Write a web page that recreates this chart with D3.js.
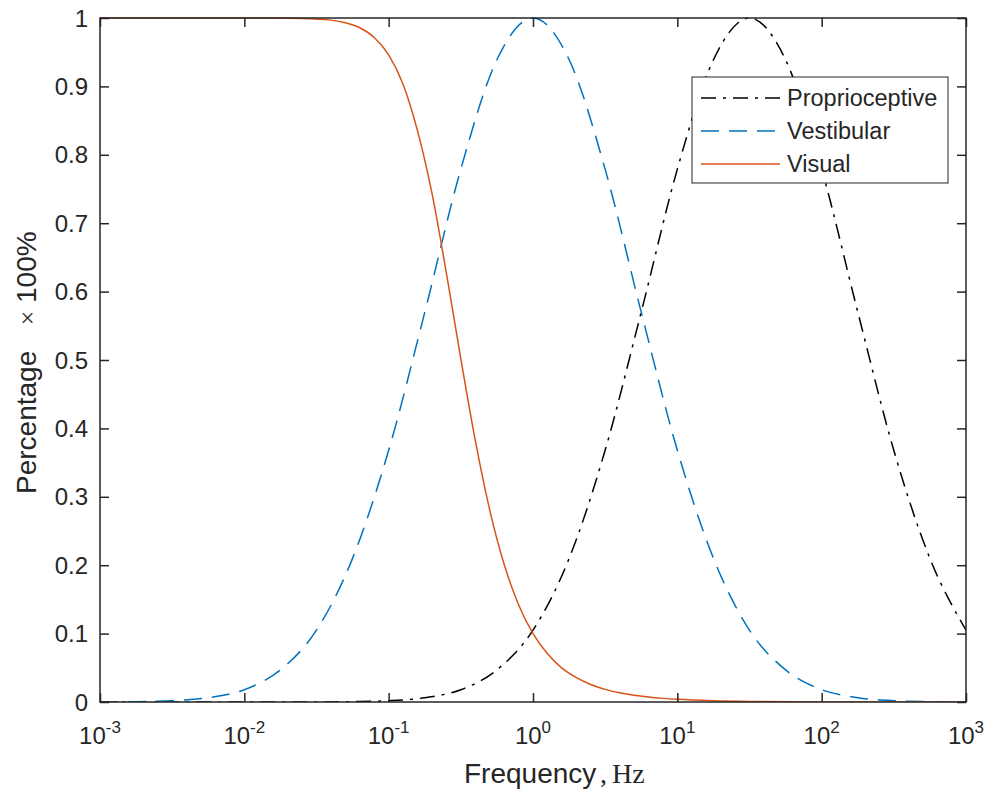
<!DOCTYPE html>
<html>
<head>
<meta charset="utf-8">
<script src="https://cdn.jsdelivr.net/npm/d3@7"></script>
<style>
  body { margin: 0; background: #fff; }
  text { font-family: "Liberation Sans", Arial, sans-serif; fill: #262626; }
</style>
</head>
<body>
<div id="chart"></div>
<script>
/* Data (frequency in Hz, share in 0..1) */
var gaussFreq = [0.001, 0.00178, 0.00316, 0.00562, 0.01, 0.0178, 0.0316, 0.0562, 0.1, 0.178, 0.316, 0.562,
                 1, 1.78, 3.16, 5.62, 10, 17.8, 31.6, 56.2, 100, 178, 316, 562, 1000];
var vestibular = [0.0001, 0.0005, 0.0019, 0.0063, 0.018, 0.047, 0.105, 0.21, 0.368, 0.570, 0.779, 0.939,
                  1.0, 0.939, 0.779, 0.570, 0.368, 0.21, 0.105, 0.047, 0.018, 0.0063, 0.0019, 0.0005, 0.0001];
var proprioceptive = [0, 0, 0, 0, 0, 0, 0.0001, 0.0005, 0.0019, 0.0063, 0.018, 0.047,
                      0.105, 0.21, 0.368, 0.570, 0.779, 0.939, 1.0, 0.939, 0.779, 0.570, 0.368, 0.21, 0.105];

var visualFreq = [0.001, 0.01, 0.0158, 0.0251, 0.0398, 0.0501, 0.0631, 0.0794, 0.1, 0.126, 0.158, 0.2,
                  0.251, 0.316, 0.398, 0.501, 0.631, 0.794, 1, 1.26, 1.58, 2.0, 2.51, 3.16, 3.98, 5.01,
                  6.31, 7.94, 10, 17.8, 31.6, 100, 1000];
var visual = [1.0, 1.0, 0.9999, 0.9994, 0.9969, 0.9932, 0.9858, 0.9716, 0.9461, 0.9029, 0.8361, 0.7429,
              0.6274, 0.5021, 0.3828, 0.281, 0.2013, 0.1422, 0.100, 0.0704, 0.0499, 0.0356, 0.0256, 0.0185,
              0.0135, 0.0098, 0.0072, 0.0053, 0.0039, 0.0018, 0.0008, 0.0001, 0.0];

var xTicks = [-3, -2, -1, 0, 1, 2, 3];
var yTicks = [0, 0.1, 0.2, 0.3, 0.4, 0.5, 0.6, 0.7, 0.8, 0.9, 1];
var legendNames = ["Proprioceptive", "Vestibular", "Visual"];

var width = 986, height = 790;
var plotLeft = 100, plotRight = 966, plotTop = 18, plotBottom = 702;
var tickLen = 9;
var axisColor = "#262626";
var serif = "'Liberation Serif', 'Times New Roman', serif";

var series = [
  {name: "Proprioceptive", freq: gaussFreq, values: proprioceptive, color: "#000000", dash: "15,7,3,7"},
  {name: "Vestibular", freq: gaussFreq, values: vestibular, color: "#0072BD", dash: "18,10"},
  {name: "Visual", freq: visualFreq, values: visual, color: "#D95319", dash: null}
];

/* Scales */
var xScale = d3.scaleLog().domain([1e-3, 1e3]).range([plotLeft, plotRight]);
var yScale = d3.scaleLinear().domain([0, 1]).range([plotBottom, plotTop]);

var svg = d3.select("#chart").append("svg")
  .attr("width", width)
  .attr("height", height);

/* Lines */
var line = d3.line()
  .x(d => xScale(d.f))
  .y(d => yScale(d.v))
  .curve(d3.curveMonotoneX);

svg.append("clipPath").attr("id", "plotclip")
  .append("rect")
  .attr("x", plotLeft).attr("y", plotTop - 2)
  .attr("width", plotRight - plotLeft).attr("height", plotBottom - plotTop + 2);

svg.append("g")
  .attr("clip-path", "url(#plotclip)")
  .selectAll("path")
  .data(series).enter()
  .append("path")
  .attr("d", s => line(s.freq.map((f, i) => ({f: f, v: s.values[i]}))))
  .attr("fill", "none")
  .attr("stroke", s => s.color)
  .attr("stroke-width", 1.5)
  .attr("stroke-dasharray", s => s.dash);

/* Axes with inward ticks on all four sides */
var xTickVals = xTicks.map(e => Math.pow(10, e));
var xAxisB = d3.axisBottom(xScale).tickValues(xTickVals).tickSizeInner(-tickLen).tickSizeOuter(0).tickFormat("");
var xAxisT = d3.axisTop(xScale).tickValues(xTickVals).tickSizeInner(-tickLen).tickSizeOuter(0).tickFormat("");
var yAxisL = d3.axisLeft(yScale).tickValues(yTicks).tickSizeInner(-tickLen).tickSizeOuter(0).tickFormat("");
var yAxisR = d3.axisRight(yScale).tickValues(yTicks).tickSizeInner(-tickLen).tickSizeOuter(0).tickFormat("");

[[xAxisB, `translate(0,${plotBottom})`], [xAxisT, `translate(0,${plotTop})`],
 [yAxisL, `translate(${plotLeft},0)`], [yAxisR, `translate(${plotRight},0)`]].forEach(function(a) {
  var g = svg.append("g").attr("transform", a[1]).call(a[0]);
  g.select(".domain").remove();
  g.selectAll("line").attr("stroke", axisColor).attr("stroke-width", 1.5);
});

svg.append("rect")
  .attr("x", plotLeft).attr("y", plotTop)
  .attr("width", plotRight - plotLeft).attr("height", plotBottom - plotTop)
  .attr("fill", "none")
  .attr("stroke", axisColor)
  .attr("stroke-width", 1.5);

/* Tick labels */
svg.selectAll(".ylab")
  .data(yTicks).enter()
  .append("text")
  .attr("class", "ylab")
  .attr("x", plotLeft - 12)
  .attr("y", d => yScale(d))
  .attr("dy", "0.36em")
  .attr("text-anchor", "end")
  .style("font-size", "24px")
  .text(d => d3.format("~g")(d));

var xl = svg.selectAll(".xlab")
  .data(xTicks).enter()
  .append("text")
  .attr("class", "xlab")
  .attr("x", d => xScale(Math.pow(10, d)))
  .attr("y", 744)
  .attr("text-anchor", "middle")
  .style("font-size", "24px");
xl.append("tspan").text("10");
xl.append("tspan")
  .attr("dy", -11)
  .style("font-size", "17px")
  .text(d => d < 0 ? "-" + (-d) : String(d));

/* Axis titles */
var xt = svg.append("text")
  .attr("y", 783)
  .style("font-size", "28px");
xt.append("tspan").attr("x", 464).text("Frequency");
xt.append("tspan").attr("x", 600).style("font-family", serif).text(",");
xt.append("tspan").attr("x", 612).style("font-family", serif).text("Hz");

var yt = svg.append("g").attr("transform", "translate(36,0) rotate(-90)");
yt.append("text")
  .attr("x", -494)
  .style("font-size", "28px")
  .text("Percentage");
yt.append("text")
  .attr("x", -318)
  .attr("text-anchor", "middle")
  .style("font-size", "26px")
  .style("font-family", serif)
  .text("\u00d7");
yt.append("text")
  .attr("x", -303)
  .style("font-size", "28px")
  .text("100%");

/* Legend */
var legend = svg.append("g");
legend.append("rect")
  .attr("x", 692).attr("y", 77)
  .attr("width", 256).attr("height", 106)
  .attr("fill", "#fff")
  .attr("stroke", axisColor)
  .attr("stroke-width", 1);

var items = legend.selectAll(".item")
  .data(series).enter()
  .append("g")
  .attr("transform", (d, i) => `translate(0, ${98 + i * 33})`);
items.append("line")
  .attr("x1", 701).attr("x2", 780)
  .attr("stroke", d => d.color)
  .attr("stroke-width", 1.5)
  .attr("stroke-dasharray", d => d.dash);
items.append("text")
  .attr("x", 787)
  .attr("dy", "0.36em")
  .style("font-size", "23.5px")
  .text((d, i) => legendNames[i]);
</script>
</body>
</html>
